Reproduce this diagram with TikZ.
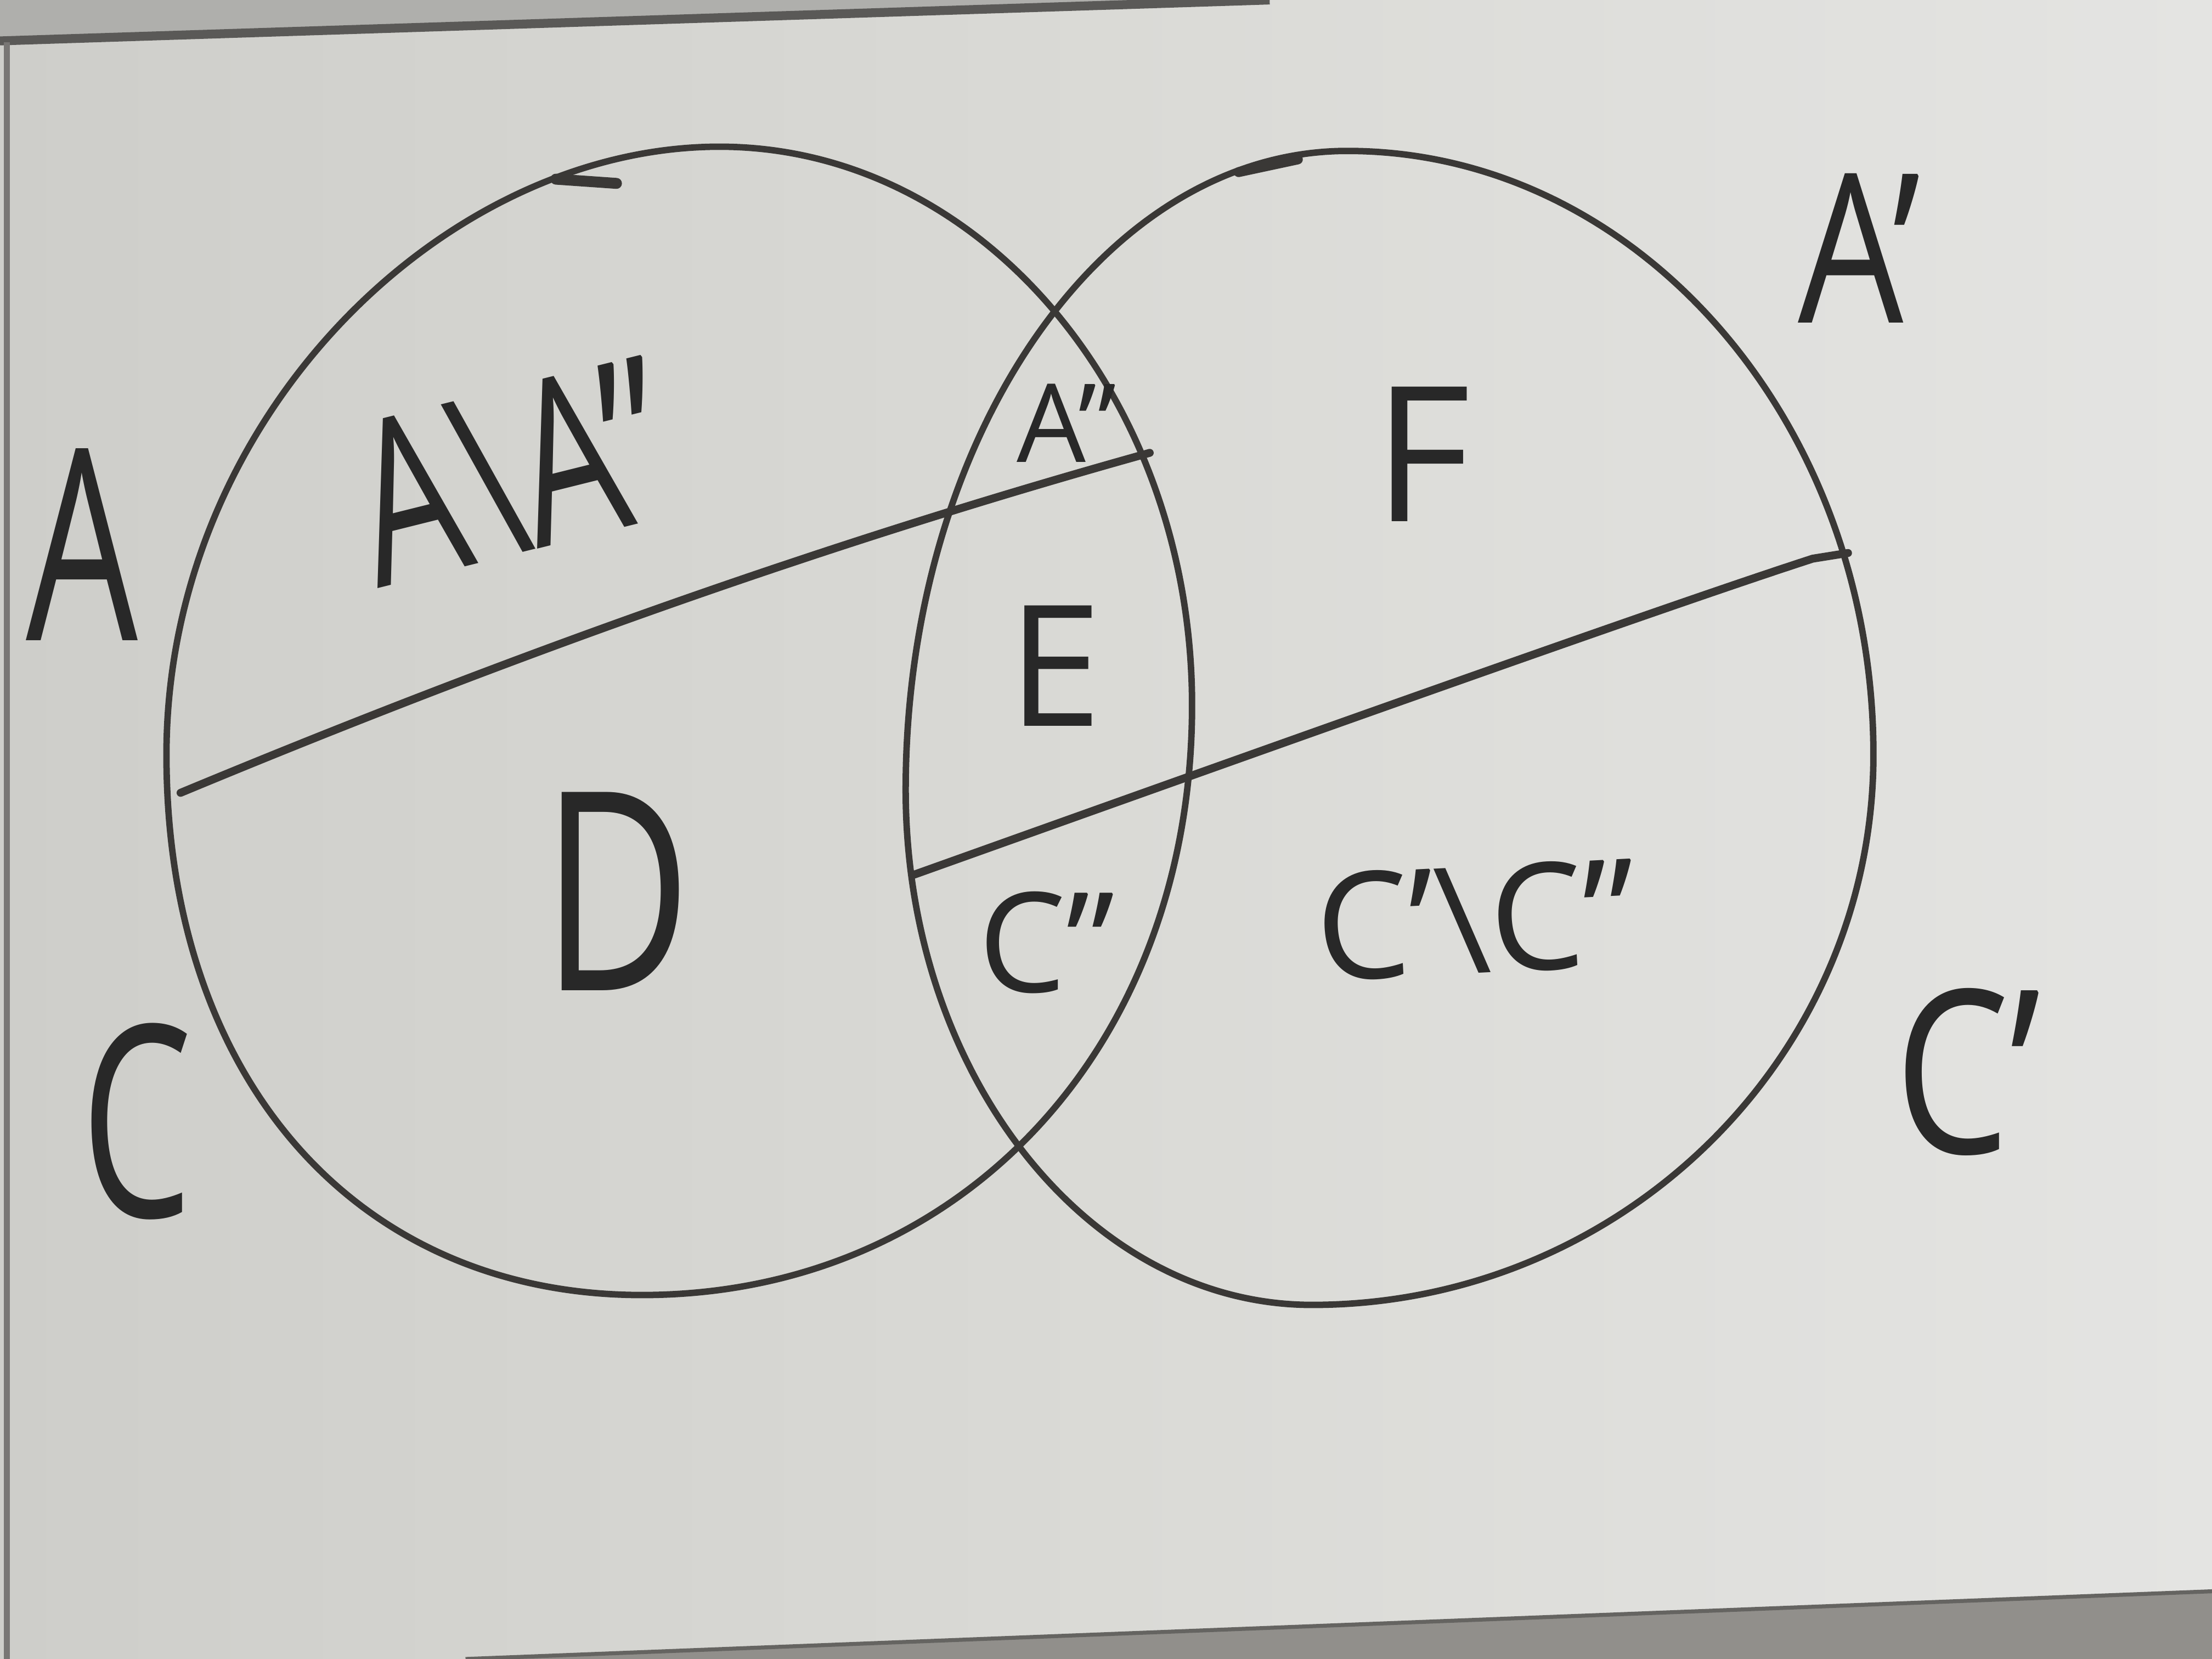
\documentclass[tikz,border=0pt]{standalone}
\usepackage{fontspec}
\setmainfont{Open Sans}
\definecolor{bgl}{RGB}{206,206,202}
\definecolor{bgm}{RGB}{218,218,214}
\definecolor{bgr}{RGB}{228,228,226}
\definecolor{ink}{RGB}{58,56,54}
\definecolor{inkt}{RGB}{40,40,40}
\definecolor{framec}{RGB}{150,148,145}
\definecolor{ledge}{RGB}{145,143,139}
\begin{document}
\begin{tikzpicture}[x=0.01cm,y=-0.01cm,
  pen/.style={draw=ink, line width=1.3pt, line cap=round, line join=round},
  rule/.style={draw=ink, line width=1.6pt, line cap=round, line join=round},
  lab/.style={text=inkt, inner sep=0pt, anchor=center},
  fs/.style={font=\fontsize{#1}{#1}\selectfont}]
% board background
\fill[left color=bgl, right color=bgr, middle color=bgm] (0,0) rectangle (1568,1176);
\useasboundingbox (0,0) rectangle (1568,1176);
% frame edges
\fill[bgl!85!black] (0,0) -- (900,0) -- (0,28) -- cycle;
\draw[framec!60!black, line width=1.8pt] (0,29) -- (900,0);
\draw[framec!80!black, line width=1.2pt] (5,30) -- (5,1176);
\fill[ledge] (330,1176) -- (1568,1128) -- (1568,1176) -- cycle;
\draw[ledge!70!black, line width=0.8pt] (330,1176) -- (1568,1128);
% left circle
\draw[pen] (510,104) .. controls (695,104) and (845,281) .. (845,500)
  .. controls (845,742) and (681,918) .. (455,918)
  .. controls (253,918) and (118,765) .. (118,535)
  .. controls (118,297) and (314,104) .. cycle;
\draw[pen, line width=2.2pt] (394,127) -- (437,130);
% right circle
\draw[pen] (955,107) .. controls (1161,107) and (1328,299) .. (1328,535)
  .. controls (1328,750) and (1149,925) .. (930,925)
  .. controls (771,925) and (642,761) .. (642,560)
  .. controls (642,310) and (782,107) .. cycle;
\draw[pen, line width=2pt] (878,122) -- (920,113);
% dividing lines
\coordinate (l1a) at (128,562);
\coordinate (l1b) at (815,321);
\coordinate (l2a) at (648,620);
\coordinate (l2b) at (1310,392);
\draw[rule] (l1a) .. controls (330,478) and (560,392) .. (l1b);
\draw[rule] (l2a) .. controls (900,530) and (1180,430) .. (1285,396) -- (l2b);
% labels
\node[lab, fs=54pt, xscale=0.66] (lA) at (58,386) {A};
\node[lab, fs=46pt, rotate=14] (lAmA) at (362,334) {\scalebox{0.72}[1]{A\textbackslash A''}};
\node[lab, fs=22pt] (lA2) at (756,300) {A''};
\node[lab, fs=38pt] (lF) at (1008,322) {F};
\node[lab, fs=42pt, xscale=0.8] (lA1) at (1318,176) {A'};
\node[lab, fs=34pt] (lE) at (748,472) {E};
\node[lab, fs=56pt, xscale=0.74] (lD) at (437,632) {D};
\node[lab, fs=28pt] (lC2) at (742,668) {C''};
\node[lab, fs=30pt, rotate=3] (lCmC) at (1046,652) {C'\textbackslash C''};
\node[lab, fs=54pt, xscale=0.66] (lC) at (97,795) {C};
\node[lab, fs=46pt, xscale=0.8] (lC1) at (1395,760) {C'};
\end{tikzpicture}
\end{document}
